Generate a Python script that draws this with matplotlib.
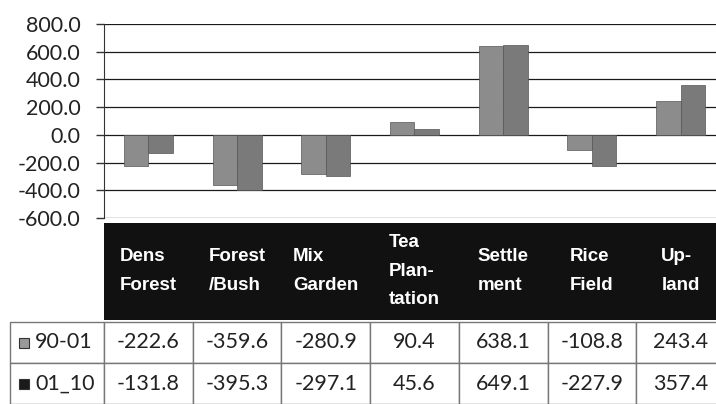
import numpy as np
import matplotlib
matplotlib.use("Agg")
import matplotlib.pyplot as plt
from matplotlib.patches import Rectangle
from matplotlib.transforms import blended_transform_factory

categories = ["Dens\nForest", "Forest\n/Bush", "Mix\nGarden", "Tea\nPlan-\ntation",
              "Settle\nment", "Rice\nField", "Up-\nland"]
series_names = ["90-01", "01_10"]
values_90_01 = [-222.6, -359.6, -280.9, 90.4, 638.1, -108.8, 243.4]
values_01_10 = [-131.8, -395.3, -297.1, 45.6, 649.1, -227.9, 357.4]
yticks = [-600, -400, -200, 0, 200, 400, 600, 800]

# figure is 716 x 404 px, layout in pixels
W, H = 716, 404
def fy(py):
    return 1 - py / H

fig = plt.figure(figsize=(W / 100, H / 100), dpi=100)
col_px = 88.7
ax = fig.add_axes([104 / W, fy(218), 7 * col_px / W, (218 - 24) / H])

x = np.arange(len(categories))
bw = 0.276
ax.bar(x - bw / 2, values_90_01, bw, color="#8c8c8c", edgecolor="#555555", linewidth=0.5, zorder=3)
ax.bar(x + bw / 2, values_01_10, bw, color="#7a7a7a", edgecolor="#555555", linewidth=0.5, zorder=3)

ax.set_xlim(-0.5, len(categories) - 0.5)
ax.set_ylim(-600, 800)
ax.set_yticks(yticks)
ax.set_yticklabels([f"{v:.1f}" for v in yticks], fontfamily="Lato", fontsize=15.5, color="#222222")
ax.set_xticks([])
ax.yaxis.grid(True, color="#1a1a1a", linewidth=0.9)
ax.set_axisbelow(True)
for s in ["top", "right", "bottom"]:
    ax.spines[s].set_visible(False)
ax.spines["left"].set_color("#333333")
ax.tick_params(axis="y", length=6, width=1, color="#333333", pad=11)

# data table below the plot
trans = blended_transform_factory(ax.transData, fig.transFigure)
px_x = lambda px: (px - 104) / col_px - 0.5

head_top, head_bot = fy(223), fy(320)
row_edges = [fy(322), fy(363), fy(404)]

ax.add_patch(Rectangle((-0.5, head_bot), len(categories), head_top - head_bot,
                       facecolor="#111111", edgecolor="none", transform=trans, clip_on=False))
for i, cat in enumerate(categories):
    ax.text(i, fy(271), cat, transform=trans, ha="center", va="center", multialignment="left",
            color="white", fontsize=13.5, fontweight="bold", linespacing=1.85,
            family=["Liberation Sans Narrow", "Liberation Sans"], clip_on=False)

rows = [values_90_01, values_01_10]
icon_colors = ["#9a9a9a", "#1a1a1a"]
for r, vals in enumerate(rows):
    top, bot = row_edges[r], row_edges[r + 1]
    yc = (top + bot) / 2
    ax.add_patch(Rectangle((px_x(10), bot), px_x(104) - px_x(10), top - bot, facecolor="white",
                           edgecolor="#777777", linewidth=1, transform=trans, clip_on=False))
    ax.add_patch(Rectangle((px_x(19), yc - 5 / H), 10 / col_px, 10 / H, facecolor=icon_colors[r],
                           edgecolor="#333333", linewidth=0.8, transform=trans, clip_on=False))
    ax.text(px_x(35), yc, series_names[r], transform=trans, ha="left", va="center",
            fontsize=15.5, fontfamily="Lato", color="#222222", clip_on=False)
    for i, v in enumerate(vals):
        ax.add_patch(Rectangle((i - 0.5, bot), 1, top - bot, facecolor="white", edgecolor="#777777",
                               linewidth=1, transform=trans, clip_on=False))
        ax.text(i, yc, f"{v:.1f}", transform=trans, ha="center", va="center",
                fontsize=15.5, fontfamily="Lato", color="#222222", clip_on=False)

fig.savefig("out.png", dpi=100)
